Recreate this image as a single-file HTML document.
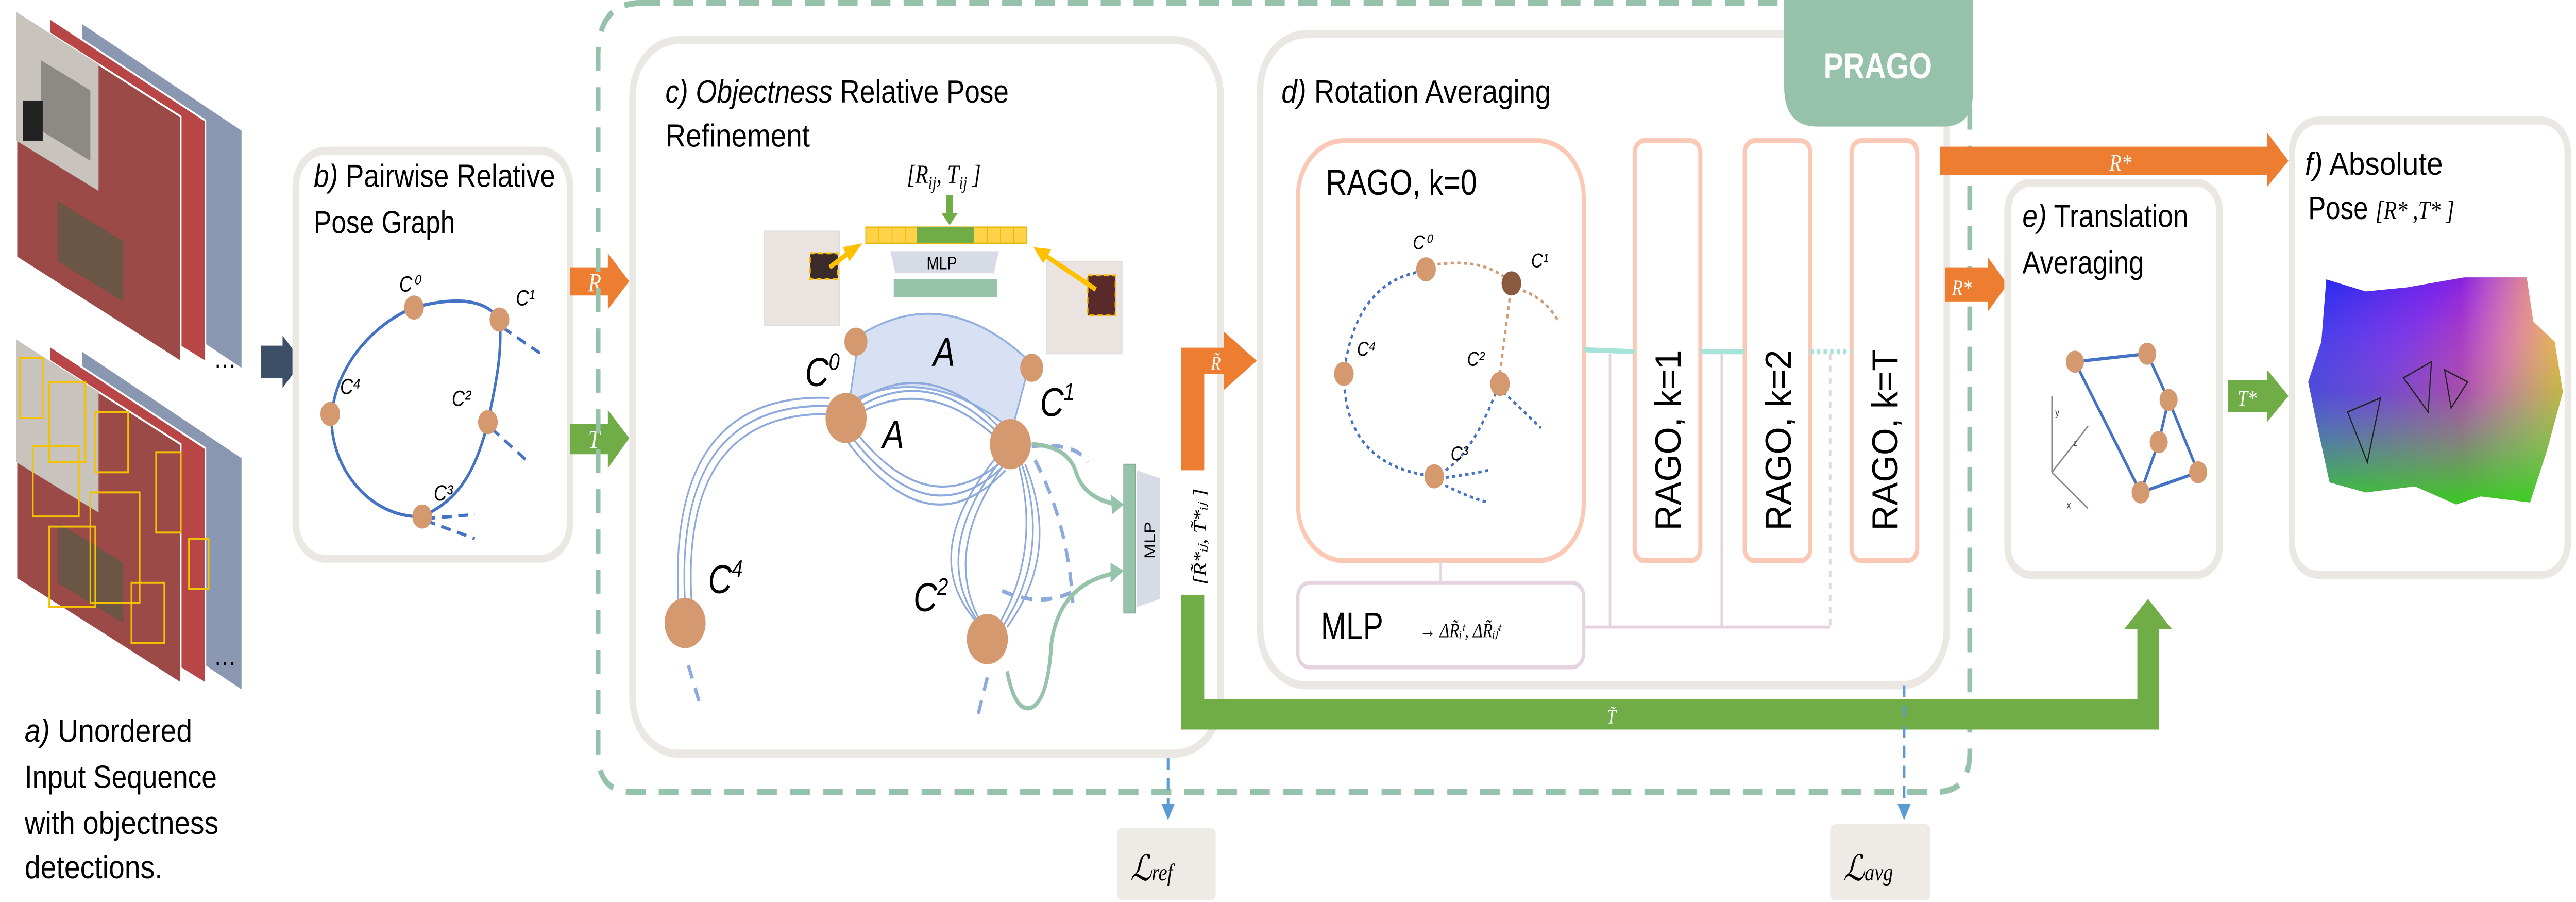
<!DOCTYPE html>
<html><head><meta charset="utf-8"><style>
html,body{margin:0;padding:0;background:#fff;width:100%;height:100%;overflow:hidden}
svg{display:block;width:100vw;height:100vh;overflow:hidden}
text{font-family:"Liberation Sans",sans-serif}
.s{font-family:"Liberation Serif",serif;font-style:italic}
</style></head><body>
<svg viewBox="0 0 1568 448.8" preserveAspectRatio="none" xmlns="http://www.w3.org/2000/svg">
<defs>
<linearGradient id="pc" x1="0" y1="0" x2="1" y2="0.6">
<stop offset="0" stop-color="#1a2cf0"/><stop offset="0.4" stop-color="#7a20e8"/><stop offset="0.75" stop-color="#e02a9a"/><stop offset="1" stop-color="#f04020"/></linearGradient>
<linearGradient id="pc2" x1="0" y1="0" x2="0" y2="1">
<stop offset="0" stop-color="#fff" stop-opacity="0"/><stop offset="0.5" stop-color="#40c0a0" stop-opacity="0.25"/><stop offset="1" stop-color="#30d020" stop-opacity="0.95"/></linearGradient>
<linearGradient id="pc3" x1="0" y1="0" x2="1" y2="0">
<stop offset="0" stop-color="#fff" stop-opacity="0"/><stop offset="0.6" stop-color="#fff" stop-opacity="0"/><stop offset="1" stop-color="#f0d020" stop-opacity="0.8"/></linearGradient>
</defs>
<!-- a) stacks -->
<g>
<polygon points="50,12 147,65 147,183 50,130" fill="#8a97b0"/>
<polygon points="30,9 125,60 125,180 30,132" fill="#b84646" stroke="#fff" stroke-width="1"/>
<polygon points="10,6 110,58 110,180 10,128" fill="#9c4a48" stroke="#fff" stroke-width="1"/>
<polygon points="10,6 60,32 60,95 10,70" fill="#c8c3bd"/>
<polygon points="25,30 55,45 55,80 25,65" fill="#8d8a85"/>
<rect x="14" y="50" width="12" height="20" fill="#222"/>
<polygon points="35,100 75,120 75,150 35,130" fill="#6b5545"/>
<polygon points="50,175 147,228 147,343 50,290" fill="#8a97b0"/>
<polygon points="30,172 125,223 125,340 30,292" fill="#b84646" stroke="#fff" stroke-width="1"/>
<polygon points="10,169 110,221 110,340 10,288" fill="#9c4a48" stroke="#fff" stroke-width="1"/>
<polygon points="10,169 60,195 60,255 10,230" fill="#c8c3bd"/>
<polygon points="35,260 75,280 75,310 35,290" fill="#6b5545"/>
<g fill="none" stroke="#f2c200" stroke-width="1">
<rect x="12" y="178" width="14" height="30"/><rect x="30" y="190" width="22" height="40"/><rect x="58" y="205" width="20" height="30"/><rect x="20" y="222" width="28" height="35"/><rect x="55" y="245" width="30" height="55"/><rect x="30" y="262" width="28" height="40"/><rect x="95" y="225" width="15" height="40"/><rect x="115" y="268" width="12" height="25"/><rect x="80" y="290" width="20" height="30"/>
</g>
<text x="130" y="183" font-size="14" fill="#000">…</text>
<text x="130" y="331" font-size="14" fill="#000">…</text>
</g>
<polygon points="159,172 172,172 172,167 184,180 172,193 172,188 159,188" fill="#3d4f66"/>
<g font-size="16" fill="#000">
<text x="15" y="369" textLength="102" lengthAdjust="spacingAndGlyphs"><tspan font-style="italic">a)</tspan> Unordered</text>
<text x="15" y="392" textLength="117" lengthAdjust="spacingAndGlyphs">Input Sequence</text>
<text x="15" y="415" textLength="118" lengthAdjust="spacingAndGlyphs">with objectness</text>
<text x="15" y="437" textLength="84" lengthAdjust="spacingAndGlyphs">detections.</text>
</g>
<!-- b -->
<rect x="180" y="75" width="167" height="203" rx="18" fill="#fff" stroke="#ebe8e3" stroke-width="4"/>
<text x="191" y="93" font-size="16" textLength="147" lengthAdjust="spacingAndGlyphs"><tspan font-style="italic">b)</tspan> Pairwise Relative</text>
<text x="191" y="116" font-size="16" textLength="86" lengthAdjust="spacingAndGlyphs">Pose Graph</text>
<g fill="none" stroke="#4472c4" stroke-width="1.6">
<path d="M252,153 C230,160 205,180 202,206 C200,232 225,258 257,257 C275,250 288,240 297,210 C302,190 306,175 304,159 C295,148 275,148 252,153"/>
<path d="M306,163 L331,177" stroke-dasharray="6 4"/>
<path d="M299,213 L323,231" stroke-dasharray="6 4"/>
<path d="M259,258 L289,256 M259,259 L289,268" stroke-dasharray="6 4"/>
</g>
<g fill="#d4996f"><circle cx="252" cy="153" r="6"/><circle cx="304" cy="159" r="6"/><circle cx="201" cy="206" r="6"/><circle cx="297" cy="210" r="6"/><circle cx="257" cy="257" r="6"/></g>
<g class="s" font-size="11"><text x="243" y="145">C⁰</text><text x="314" y="152">C¹</text><text x="207" y="196">C⁴</text><text x="275" y="202">C²</text><text x="264" y="249">C³</text></g>
<!-- R T arrows -->
<polygon points="347,133 370,133 370,126 383,140 370,154 370,147 347,147" fill="#ed7d31"/>
<text x="358" y="145" class="s" font-size="13" fill="#fff">R</text>
<polygon points="347,211 370,211 370,204 383,218 370,233 370,226 347,226" fill="#70ad47"/>
<text x="358" y="223" class="s" font-size="13" fill="#fff">T</text>
<!-- dashed PRAGO box -->
<path d="M390,1.5 L1199,1.5 L1199,374 Q1199,394 1179,394 L384,394 Q364,394 364,374 L364,28 Q364,1.5 390,1.5 Z" fill="none" stroke="#96c2ab" stroke-width="3" stroke-dasharray="12 8"/>
<!-- c box -->
<rect x="385" y="20" width="358" height="355" rx="28" fill="#fff" stroke="#ebe8e3" stroke-width="4"/>
<text x="405" y="51" font-size="16" textLength="209" lengthAdjust="spacingAndGlyphs"><tspan font-style="italic">c) Objectness</tspan>  Relative Pose</text>
<text x="405" y="73" font-size="16" textLength="88" lengthAdjust="spacingAndGlyphs">Refinement</text>
<text x="552" y="91" class="s" font-size="13" font-style="normal">[R<tspan font-size="9" dy="3">ij</tspan><tspan dy="-3">, T</tspan><tspan font-size="9" dy="3">ij</tspan><tspan dy="-3"> ]</tspan></text>
<polygon points="576,97 580,97 580,106 583,106 578,112 573,106 576,106" fill="#70ad47"/>
<rect x="527" y="113" width="98" height="8" fill="#ffd24a" stroke="#e8b800" stroke-width="0.6"/>
<g stroke="#e8b800" stroke-width="0.5"><line x1="535" y1="113" x2="535" y2="121"/><line x1="543" y1="113" x2="543" y2="121"/><line x1="551" y1="113" x2="551" y2="121"/><line x1="601" y1="113" x2="601" y2="121"/><line x1="609" y1="113" x2="609" y2="121"/><line x1="617" y1="113" x2="617" y2="121"/></g>
<rect x="558" y="113" width="35" height="8" fill="#70ad47"/>
<polygon points="542,125 608,125 605,136 545,136" fill="#d6dbe6"/>
<text x="564" y="134" font-size="9">MLP</text>
<rect x="544" y="139" width="63" height="9" fill="#98c3ab"/>
<rect x="465" y="115" width="46" height="47" fill="#ebe3e0" stroke="#ddd" stroke-width="0.5"/>
<rect x="493" y="126" width="17" height="13" fill="#3a2a2a" stroke="#ffc000" stroke-dasharray="3 2"/>
<rect x="637" y="130" width="46" height="46" fill="#ebe3e0" stroke="#ddd" stroke-width="0.5"/>
<rect x="662" y="137" width="17" height="20" fill="#5a2a2a" stroke="#ffc000" stroke-dasharray="3 2"/>
<g stroke="#ffc000" stroke-width="2.5"><line x1="505" y1="133" x2="518" y2="125"/><line x1="667" y1="144" x2="636" y2="127"/></g>
<polygon points="525,121 517,130 513,123" fill="#ffc000"/><polygon points="629,123 640,124 635,131" fill="#ffc000"/>
<path d="M523,167 Q575,140 627,180 L616,214 Q565,180 517,200 Z" fill="#d7e1f3" stroke="#93b0e0" stroke-width="1"/>
<g fill="none" stroke="#8eaadc" stroke-width="1">
<path d="M516,203 Q566,172 614,218"/><path d="M516,206 Q566,177 614,221"/><path d="M516,209 Q566,182 614,224"/>
<path d="M520,214 Q566,262 612,228"/><path d="M518,217 Q566,268 612,231"/><path d="M516,220 Q566,274 612,234"/>
<path d="M417,300 Q410,200 505,202"/><path d="M421,300 Q414,205 505,206"/><path d="M413,300 Q406,195 505,198"/>
<path d="M610,228 Q565,275 596,310"/><path d="M612,230 Q572,275 598,311"/><path d="M608,226 Q558,275 594,309"/>
<path d="M622,231 Q640,275 610,312"/><path d="M620,231 Q634,275 607,312"/><path d="M624,231 Q646,275 613,312"/>
</g>
<g fill="none" stroke="#8eaadc" stroke-width="2" stroke-dasharray="7 5"><path d="M419,331 L427,353"/><path d="M601,337 L594,360"/><path d="M628,222 Q655,220 662,230"/><path d="M630,229 Q650,260 653,300"/><path d="M610,294 Q640,305 665,288"/></g>
<g fill="none" stroke="#98c3ab" stroke-width="2.2"><path d="M628,221 Q650,222 655,235 Q660,248 680,251"/><path d="M613,334 Q618,355 628,352 Q638,348 640,320 Q645,290 680,285"/></g>
<polygon points="684,251 676,246 677,256" fill="#98c3ab"/><polygon points="684,284 676,280 676,290" fill="#98c3ab"/>
<g fill="#d4996f"><circle cx="521" cy="170" r="7"/><circle cx="628" cy="183" r="7"/><circle cx="515" cy="208" r="12.5"/><circle cx="615" cy="221" r="12.5"/><circle cx="417" cy="310" r="12.5"/><circle cx="601" cy="318" r="12.5"/></g>
<g class="s" font-size="20"><text x="490" y="192">C<tspan font-size="12" dy="-8">0</tspan></text><text x="568" y="182">A</text><text x="537" y="223">A</text><text x="633" y="207">C<tspan font-size="12" dy="-8">1</tspan></text><text x="431" y="295">C<tspan font-size="12" dy="-8">4</tspan></text><text x="556" y="304">C<tspan font-size="12" dy="-8">2</tspan></text></g>
<rect x="684" y="231" width="7" height="74" fill="#98c3ab" stroke="#7fae95" stroke-width="0.5"/>
<polygon points="692,234 706,238 706,298 692,302" fill="#d6dbe6"/>
<text transform="translate(703,278) rotate(-90)" font-size="9">MLP</text>
<!-- R~ T~ paths -->
<polygon points="719,234 719,173 745,173 745,165 765,179.5 745,194 745,186 733,186 733,234" fill="#ed7d31"/>
<text x="737" y="184" class="s" font-size="10" fill="#fff">R̃</text>
<path d="M719,296 L719,363 L1314,363 L1314,313 L1322,313 L1307.5,298 L1293,313 L1301,313 L1301,348 L733,348 L733,296 Z" fill="#70ad47"/>
<text x="978" y="360" class="s" font-size="10" fill="#fff">T̃</text>
<text transform="translate(734,291) rotate(-90)" class="s" font-size="11">[R̃*ᵢⱼ, T̃*ᵢⱼ ]</text>
<!-- d box -->
<rect x="767" y="17" width="418" height="324" rx="28" fill="#fff" stroke="#ebe8e3" stroke-width="4"/>
<text x="780" y="51" font-size="16" textLength="164" lengthAdjust="spacingAndGlyphs"><tspan font-style="italic">d)</tspan> Rotation Averaging</text>
<path d="M1086,0 L1201,0 L1201,45 Q1201,63 1183,63 L1106,63 Q1086,63 1086,43 Z" fill="#96c2ab"/>
<text x="1143" y="39" font-size="18" font-weight="bold" fill="#fff" text-anchor="middle">PRAGO</text>
<rect x="790" y="70" width="174" height="209" rx="28" fill="#fff" stroke="#fbc8b5" stroke-width="2.5"/>
<text x="807" y="97" font-size="18" textLength="92" lengthAdjust="spacingAndGlyphs">RAGO, k=0</text>
<g fill="none" stroke="#4472c4" stroke-width="1.4" stroke-dasharray="2 2"><path d="M866,135 Q825,140 818,186 Q818,232 873,237 Q895,230 912,192"/><path d="M915,195 L938,213"/><path d="M876,238 Q895,236 906,234 M876,240 Q895,248 906,250"/></g>
<g fill="none" stroke="#d4996f" stroke-width="1.4" stroke-dasharray="2 2"><path d="M871,132 Q900,128 916,138"/><path d="M913,186 L919,148"/><path d="M948,159 Q940,148 925,144"/></g>
<g fill="#d4996f"><circle cx="868" cy="134" r="6"/><circle cx="818" cy="186" r="6"/><circle cx="913" cy="191" r="6"/><circle cx="873" cy="237" r="6"/></g><circle cx="920" cy="141" r="6" fill="#8a5a3e"/>
<g class="s" font-size="10"><text x="860" y="124">C⁰</text><text x="932" y="133">C¹</text><text x="826" y="177">C⁴</text><text x="893" y="182">C²</text><text x="883" y="229">C³</text></g>
<g fill="#fff" stroke="#fbc8b5" stroke-width="2.5"><rect x="995" y="70" width="40" height="209" rx="6"/><rect x="1062" y="70" width="40" height="209" rx="6"/><rect x="1127" y="70" width="40" height="209" rx="6"/></g>
<g font-size="22"><text transform="translate(1023,264) rotate(-90)" textLength="90" lengthAdjust="spacingAndGlyphs">RAGO, k=1</text><text transform="translate(1090,264) rotate(-90)" textLength="90" lengthAdjust="spacingAndGlyphs">RAGO, k=2</text><text transform="translate(1155,264) rotate(-90)" textLength="90" lengthAdjust="spacingAndGlyphs">RAGO, k=T</text></g>
<g stroke="#a8e3da" stroke-width="2.5"><line x1="964" y1="174" x2="995" y2="175"/><line x1="1035" y1="175" x2="1062" y2="175"/><line x1="1102" y1="175" x2="1127" y2="175" stroke-dasharray="2 2"/></g>
<g stroke="#e6d3e0" stroke-width="1.5" fill="none"><line x1="877" y1="279" x2="877" y2="290"/><path d="M964,312 L1114,312"/><line x1="980" y1="176" x2="980" y2="312"/><line x1="1048" y1="176" x2="1048" y2="312"/><line x1="1114" y1="176" x2="1114" y2="312" stroke-dasharray="3 3"/></g>
<rect x="790" y="290" width="174" height="42" rx="7" fill="#fff" stroke="#e6d3e0" stroke-width="2"/>
<text x="804" y="318" font-size="19" textLength="38" lengthAdjust="spacingAndGlyphs">MLP</text>
<text x="864" y="317" class="s" font-size="10">→ ΔR̃ᵢᵗ, ΔR̃ᵢⱼᵗ</text>
<!-- losses -->
<g stroke="#5b9bd5" stroke-width="1.6" stroke-dasharray="6 4"><line x1="711" y1="377" x2="711" y2="400"/><line x1="1159" y1="341" x2="1159" y2="400"/></g>
<polygon points="707,400 715,400 711,408" fill="#5b9bd5"/><polygon points="1155,400 1163,400 1159,408" fill="#5b9bd5"/>
<rect x="680" y="412" width="60" height="36" rx="3" fill="#eeebe6"/>
<text x="688" y="438" class="s" font-size="18">ℒ<tspan font-size="12">ref</tspan></text>
<rect x="1114" y="410" width="61" height="38" rx="3" fill="#eeebe6"/>
<text x="1122" y="438" class="s" font-size="18">ℒ<tspan font-size="12">avg</tspan></text>
<!-- R* arrows -->
<polygon points="1181,73 1380,73 1380,66 1393,80 1380,93 1380,87 1181,87" fill="#ed7d31"/>
<text x="1284" y="85" class="s" font-size="12" fill="#fff">R*</text>
<polygon points="1184,133 1210,133 1210,128 1222,141.5 1210,155 1210,150 1184,150" fill="#ed7d31"/>
<text x="1188" y="147" class="s" font-size="11" fill="#fff">R*</text>
<!-- e -->
<rect x="1222" y="91" width="129" height="195" rx="14" fill="#fff" stroke="#ebe8e3" stroke-width="4"/>
<text x="1231" y="113" font-size="16" textLength="101" lengthAdjust="spacingAndGlyphs"><tspan font-style="italic">e)</tspan> Translation</text>
<text x="1231" y="136" font-size="16" textLength="74" lengthAdjust="spacingAndGlyphs">Averaging</text>
<g stroke="#4472c4" stroke-width="1.6" fill="none"><path d="M1263,180 L1307,176 L1320,199 L1314,220 L1303,245 L1338,235 L1320,199 M1263,180 L1303,245"/></g>
<g fill="#d4996f"><circle cx="1263" cy="180" r="5.5"/><circle cx="1307" cy="176" r="5.5"/><circle cx="1320" cy="199" r="5.5"/><circle cx="1314" cy="220" r="5.5"/><circle cx="1338" cy="235" r="5.5"/><circle cx="1303" cy="245" r="5.5"/></g>
<g stroke="#888" stroke-width="0.8"><line x1="1249" y1="235" x2="1249" y2="197"/><line x1="1249" y1="235" x2="1271" y2="212"/><line x1="1249" y1="235" x2="1271" y2="253"/></g>
<g font-size="5" fill="#333"><text x="1251" y="207">y</text><text x="1262" y="222">z</text><text x="1258" y="253">x</text></g>
<!-- T* -->
<polygon points="1356,189 1380,189 1380,184 1393,197 1380,210 1380,205 1356,205" fill="#70ad47"/>
<text x="1362" y="202" class="s" font-size="11" fill="#fff">T*</text>
<!-- f -->
<rect x="1395" y="60" width="168" height="226" rx="16" fill="#fff" stroke="#ebe8e3" stroke-width="4"/>
<text x="1403" y="87" font-size="16" textLength="84" lengthAdjust="spacingAndGlyphs"><tspan font-style="italic">f)</tspan> Absolute</text>
<text x="1405" y="109" font-size="16">Pose  <tspan class="s" font-size="13">[R* ,T* ]</tspan></text>
<path d="M1416,139 L1440,145 L1465,143 L1500,138 L1538,138 L1542,160 L1555,170 L1560,195 L1550,225 L1540,250 L1510,247 L1495,251 L1470,242 L1440,245 L1418,240 L1410,210 L1405,190 L1413,170 Z" fill="url(#pc)"/>
<path d="M1416,139 L1440,145 L1465,143 L1500,138 L1538,138 L1542,160 L1555,170 L1560,195 L1550,225 L1540,250 L1510,247 L1495,251 L1470,242 L1440,245 L1418,240 L1410,210 L1405,190 L1413,170 Z" fill="url(#pc3)"/>
<path d="M1416,139 L1440,145 L1465,143 L1500,138 L1538,138 L1542,160 L1555,170 L1560,195 L1550,225 L1540,250 L1510,247 L1495,251 L1470,242 L1440,245 L1418,240 L1410,210 L1405,190 L1413,170 Z" fill="url(#pc2)"/>
<g fill="none" stroke="#222" stroke-width="0.7"><path d="M1429,205 L1449,198 L1441,230 Z M1429,205 L1441,230"/><path d="M1463,188 L1480,180 L1478,205 Z"/><path d="M1488,184 L1502,190 L1492,203 Z"/></g>
</svg>
</body></html>
